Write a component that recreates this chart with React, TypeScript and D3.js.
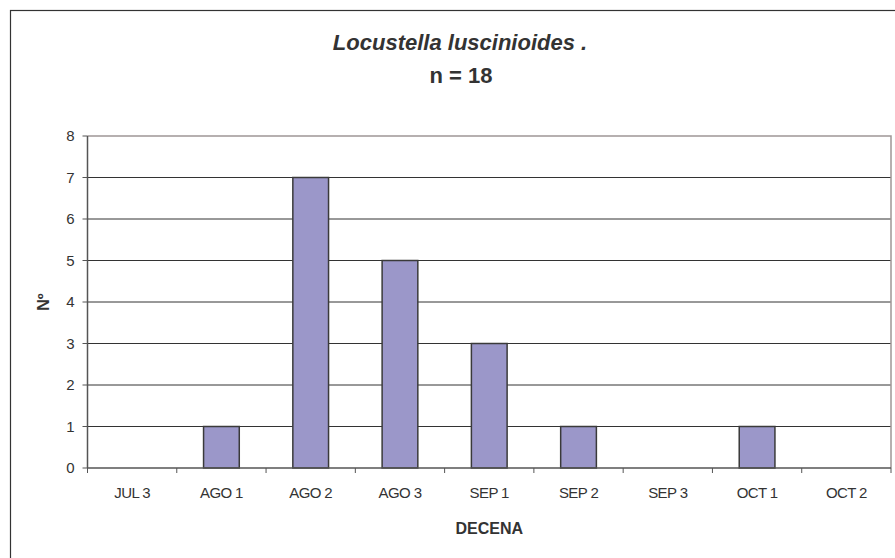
import * as d3 from "d3";
import { useEffect, useRef } from "react";

const categories = ["JUL 3", "AGO 1", "AGO 2", "AGO 3", "SEP 1", "SEP 2", "SEP 3", "OCT 1", "OCT 2"];
const counts = [0, 1, 7, 5, 3, 1, 0, 1, 0];
const yTicks = [0, 1, 2, 3, 4, 5, 6, 7, 8];

const App = () => {
  const svgRef = useRef<SVGSVGElement | null>(null);
  const w = 895;
  const h = 558;
  const m = { top: 136, right: 4, bottom: 90, left: 87.5 };

  useEffect(() => {
    if (!svgRef.current) return;
    const svg = d3.select(svgRef.current);
    svg.selectAll("*").remove();

    const font = "'Liberation Sans', Arial, sans-serif";
    const plotW = w - m.left - m.right;
    const plotH = h - m.top - m.bottom;

    // outer chart frame (cut off on right and bottom)
    svg.append("rect")
      .attr("x", 10.5).attr("y", 10.5)
      .attr("width", 920).attr("height", 600)
      .attr("fill", "white").attr("stroke", "#333").attr("stroke-width", 1.2);

    const x = d3.scaleBand<string>().domain(categories).range([0, plotW]).padding(0);
    const y = d3.scaleLinear().domain([0, 8]).range([plotH, 0]);

    const g = svg.append("g").attr("transform", `translate(${m.left}, ${m.top})`);

    // grid lines
    g.selectAll("line.grid")
      .data(yTicks.filter(t => t > 0 && t < 8))
      .enter().append("line")
      .attr("class", "grid")
      .attr("x1", 0).attr("x2", plotW)
      .attr("y1", d => y(d)).attr("y2", d => y(d))
      .attr("stroke", "#333").attr("stroke-width", 1);

    // plot border top/right
    g.append("path")
      .attr("d", `M0,${y(8)}H${plotW}V${plotH}`)
      .attr("fill", "none").attr("stroke", "#9e9696").attr("stroke-width", 1.5);

    // bars
    const bw = x.bandwidth() / 2.5;
    g.selectAll("rect.bar")
      .data(categories.map((c, i) => ({ c, v: counts[i] })).filter(d => d.v > 0))
      .enter().append("rect")
      .attr("class", "bar")
      .attr("x", d => x(d.c)! + (x.bandwidth() - bw) / 2)
      .attr("y", d => y(d.v))
      .attr("width", bw)
      .attr("height", d => y(0) - y(d.v))
      .attr("fill", "#9b97c9")
      .attr("stroke", "#3a3a3a")
      .attr("stroke-width", 1.5);

    // y axis
    g.append("line").attr("x1", 0).attr("x2", 0).attr("y1", 0).attr("y2", plotH)
      .attr("stroke", "#555").attr("stroke-width", 1.5);
    g.selectAll("line.ytick")
      .data(yTicks).enter().append("line")
      .attr("x1", -5).attr("x2", 0)
      .attr("y1", d => y(d)).attr("y2", d => y(d))
      .attr("stroke", "#555").attr("stroke-width", 1);
    g.selectAll("text.ylab")
      .data(yTicks).enter().append("text")
      .attr("x", -13).attr("y", d => y(d))
      .attr("dy", "0.36em")
      .attr("text-anchor", "end")
      .attr("font-family", font).attr("font-size", 15).attr("fill", "#333")
      .text(d => d);

    // x axis
    g.append("line").attr("x1", 0).attr("x2", plotW).attr("y1", plotH).attr("y2", plotH)
      .attr("stroke", "#555").attr("stroke-width", 1.5);
    const edges = categories.map(c => x(c)!).concat([plotW]);
    g.selectAll("line.xtick")
      .data(edges).enter().append("line")
      .attr("x1", d => d).attr("x2", d => d)
      .attr("y1", plotH).attr("y2", plotH + 5)
      .attr("stroke", "#555").attr("stroke-width", 1);
    g.selectAll("text.xlab")
      .data(categories).enter().append("text")
      .attr("x", d => x(d)! + x.bandwidth() / 2)
      .attr("y", plotH + 30)
      .attr("text-anchor", "middle")
      .attr("font-family", font).attr("font-size", 15).attr("fill", "#333")
      .attr("letter-spacing", -0.6)
      .text(d => d);

    // axis titles
    g.append("text")
      .attr("x", plotW / 2).attr("y", plotH + 66)
      .attr("text-anchor", "middle")
      .attr("font-family", font).attr("font-size", 16).attr("font-weight", "bold").attr("fill", "#333")
      .text("DECENA");
    svg.append("text")
      .attr("transform", `translate(49, ${m.top + plotH / 2}) rotate(-90)`)
      .attr("text-anchor", "middle")
      .attr("font-family", font).attr("font-size", 16).attr("font-weight", "bold").attr("fill", "#333")
      .text("Nº");

    // title
    svg.append("text")
      .attr("x", 460).attr("y", 50)
      .attr("text-anchor", "middle")
      .attr("font-family", font).attr("font-size", 22).attr("font-weight", "bold")
      .attr("font-style", "italic").attr("fill", "#333")
      .text("Locustella luscinioides .");
    svg.append("text")
      .attr("x", 461).attr("y", 83)
      .attr("text-anchor", "middle")
      .attr("font-family", font).attr("font-size", 22).attr("font-weight", "bold").attr("fill", "#333")
      .text("n = 18");
  }, []);

  return (
    <svg ref={svgRef} width={w} height={h} viewBox={`0 0 ${w} ${h}`}
      style={{ position: "absolute", left: 0, top: 0, background: "white" }} />
  );
};

export default App;
